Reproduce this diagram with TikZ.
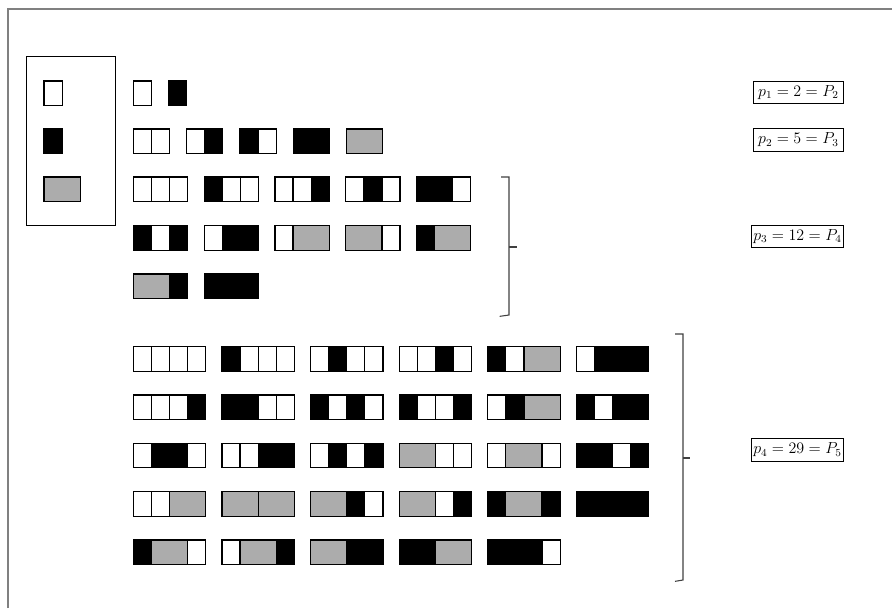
\documentclass[tikz,border=0pt]{standalone}
\begin{document}
\begin{tikzpicture}[x=0.75pt,y=-0.75pt,
  cellw/.style={draw=black,line width=0.9pt,fill=white},
  cellb/.style={draw=black,line width=0.9pt,fill=black},
  cellg/.style={draw=black,line width=0.9pt,fill=gray!65},
  lab/.style={draw=black,line width=0.8pt,minimum width=68pt,minimum height=17pt,inner sep=1pt,font=\fontsize{11.5}{13}\selectfont},
  brace/.style={draw=black!75,line width=0.8pt},
  frame/.style={draw=gray,line width=1.3pt}]
\useasboundingbox (0,0) rectangle (892,608);
\def\unitw{18.1}
\def\unith{24.5}
\newcommand\drawtile[3]{%
  \xdef\tpos{0}%
  \foreach \c in {#3}{%
    \if\c g\def\wid{2}\else\def\wid{1}\fi
    \draw[cell\c] ({#1+\tpos*\unitw},#2) rectangle ++({\wid*\unitw},\unith);
    \pgfmathsetmacro\newpos{\tpos+\wid}\xdef\tpos{\newpos}%
  }}
% frame
\draw[frame] (8,608) -- (8,9) -- (892,9);
% legend
\draw[line width=0.9pt] (26.7,56.7) rectangle (115.7,225.7);
\drawtile{44}{81}{w}
\drawtile{44}{129}{b}
\drawtile{44}{177}{g}
% row 1
\drawtile{133.3}{81}{w}
\drawtile{168.3}{81}{b}
% row 2
\drawtile{133.3}{129}{w,w}
\drawtile{186.6}{129}{w,b}
\drawtile{239.9}{129}{b,w}
\drawtile{293.2}{129}{b,b}
\drawtile{346.5}{129}{g}
% rows 3-5
\drawtile{133.3}{177}{w,w,w}
\drawtile{204.1}{177}{b,w,w}
\drawtile{274.9}{177}{w,w,b}
\drawtile{345.7}{177}{w,b,w}
\drawtile{416.5}{177}{b,b,w}
\drawtile{133.3}{225.7}{b,w,b}
\drawtile{204.1}{225.7}{w,b,b}
\drawtile{274.9}{225.7}{w,g}
\drawtile{345.7}{225.7}{g,w}
\drawtile{416.5}{225.7}{b,g}
\drawtile{133.3}{274}{g,b}
\drawtile{204.1}{274}{b,b,b}
% rows 6-10
\drawtile{133.3}{346.7}{w,w,w,w}
\drawtile{221.9}{346.7}{b,w,w,w}
\drawtile{310.5}{346.7}{w,b,w,w}
\drawtile{399.1}{346.7}{w,w,b,w}
\drawtile{487.7}{346.7}{b,w,g}
\drawtile{576.3}{346.7}{w,b,b,b}
\drawtile{133.3}{395}{w,w,w,b}
\drawtile{221.9}{395}{b,b,w,w}
\drawtile{310.5}{395}{b,w,b,w}
\drawtile{399.1}{395}{b,w,w,b}
\drawtile{487.7}{395}{w,b,g}
\drawtile{576.3}{395}{b,w,b,b}
\drawtile{133.3}{443.3}{w,b,b,w}
\drawtile{221.9}{443.3}{w,w,b,b}
\drawtile{310.5}{443.3}{w,b,w,b}
\drawtile{399.1}{443.3}{g,w,w}
\drawtile{487.7}{443.3}{w,g,w}
\drawtile{576.3}{443.3}{b,b,w,b}
\drawtile{133.3}{491.7}{w,w,g}
\drawtile{221.9}{491.7}{g,g}
\drawtile{310.5}{491.7}{g,b,w}
\drawtile{399.1}{491.7}{g,w,b}
\drawtile{487.7}{491.7}{b,g,b}
\drawtile{576.3}{491.7}{b,b,b,b}
\drawtile{133.3}{540}{b,g,w}
\drawtile{221.9}{540}{w,g,b}
\drawtile{310.5}{540}{g,b,b}
\drawtile{399.1}{540}{b,b,g}
\drawtile{487.7}{540}{b,b,b,w}
% braces
\coordinate (b1t) at (509,177);
\coordinate (b1m) at (509,247);
\coordinate (b1b) at (509,315);
\draw[brace] ([xshift=-6pt]b1t) -- (b1t) -- (b1b) -- ([xshift=-7pt,yshift=-1pt]b1b);
\draw[brace] (b1m) -- ([xshift=6pt]b1m);
\coordinate (b2t) at (683,334);
\coordinate (b2m) at (683,458);
\coordinate (b2b) at (683,580);
\draw[brace] ([xshift=-6pt]b2t) -- (b2t) -- (b2b) -- ([xshift=-6pt,yshift=-1pt]b2b);
\draw[brace] (b2m) -- ([xshift=5pt]b2m);
% labels
\node[lab] (l1) at (798.5,92.5) {$p_1=2=P_2$};
\node[lab] (l2) at (798.5,140) {$p_2=5=P_3$};
\node[lab] (l3) at (797.5,236.5) {$p_3=12=P_4$};
\node[lab] (l4) at (797.5,450) {$p_4=29=P_5$};
\end{tikzpicture}
\end{document}
